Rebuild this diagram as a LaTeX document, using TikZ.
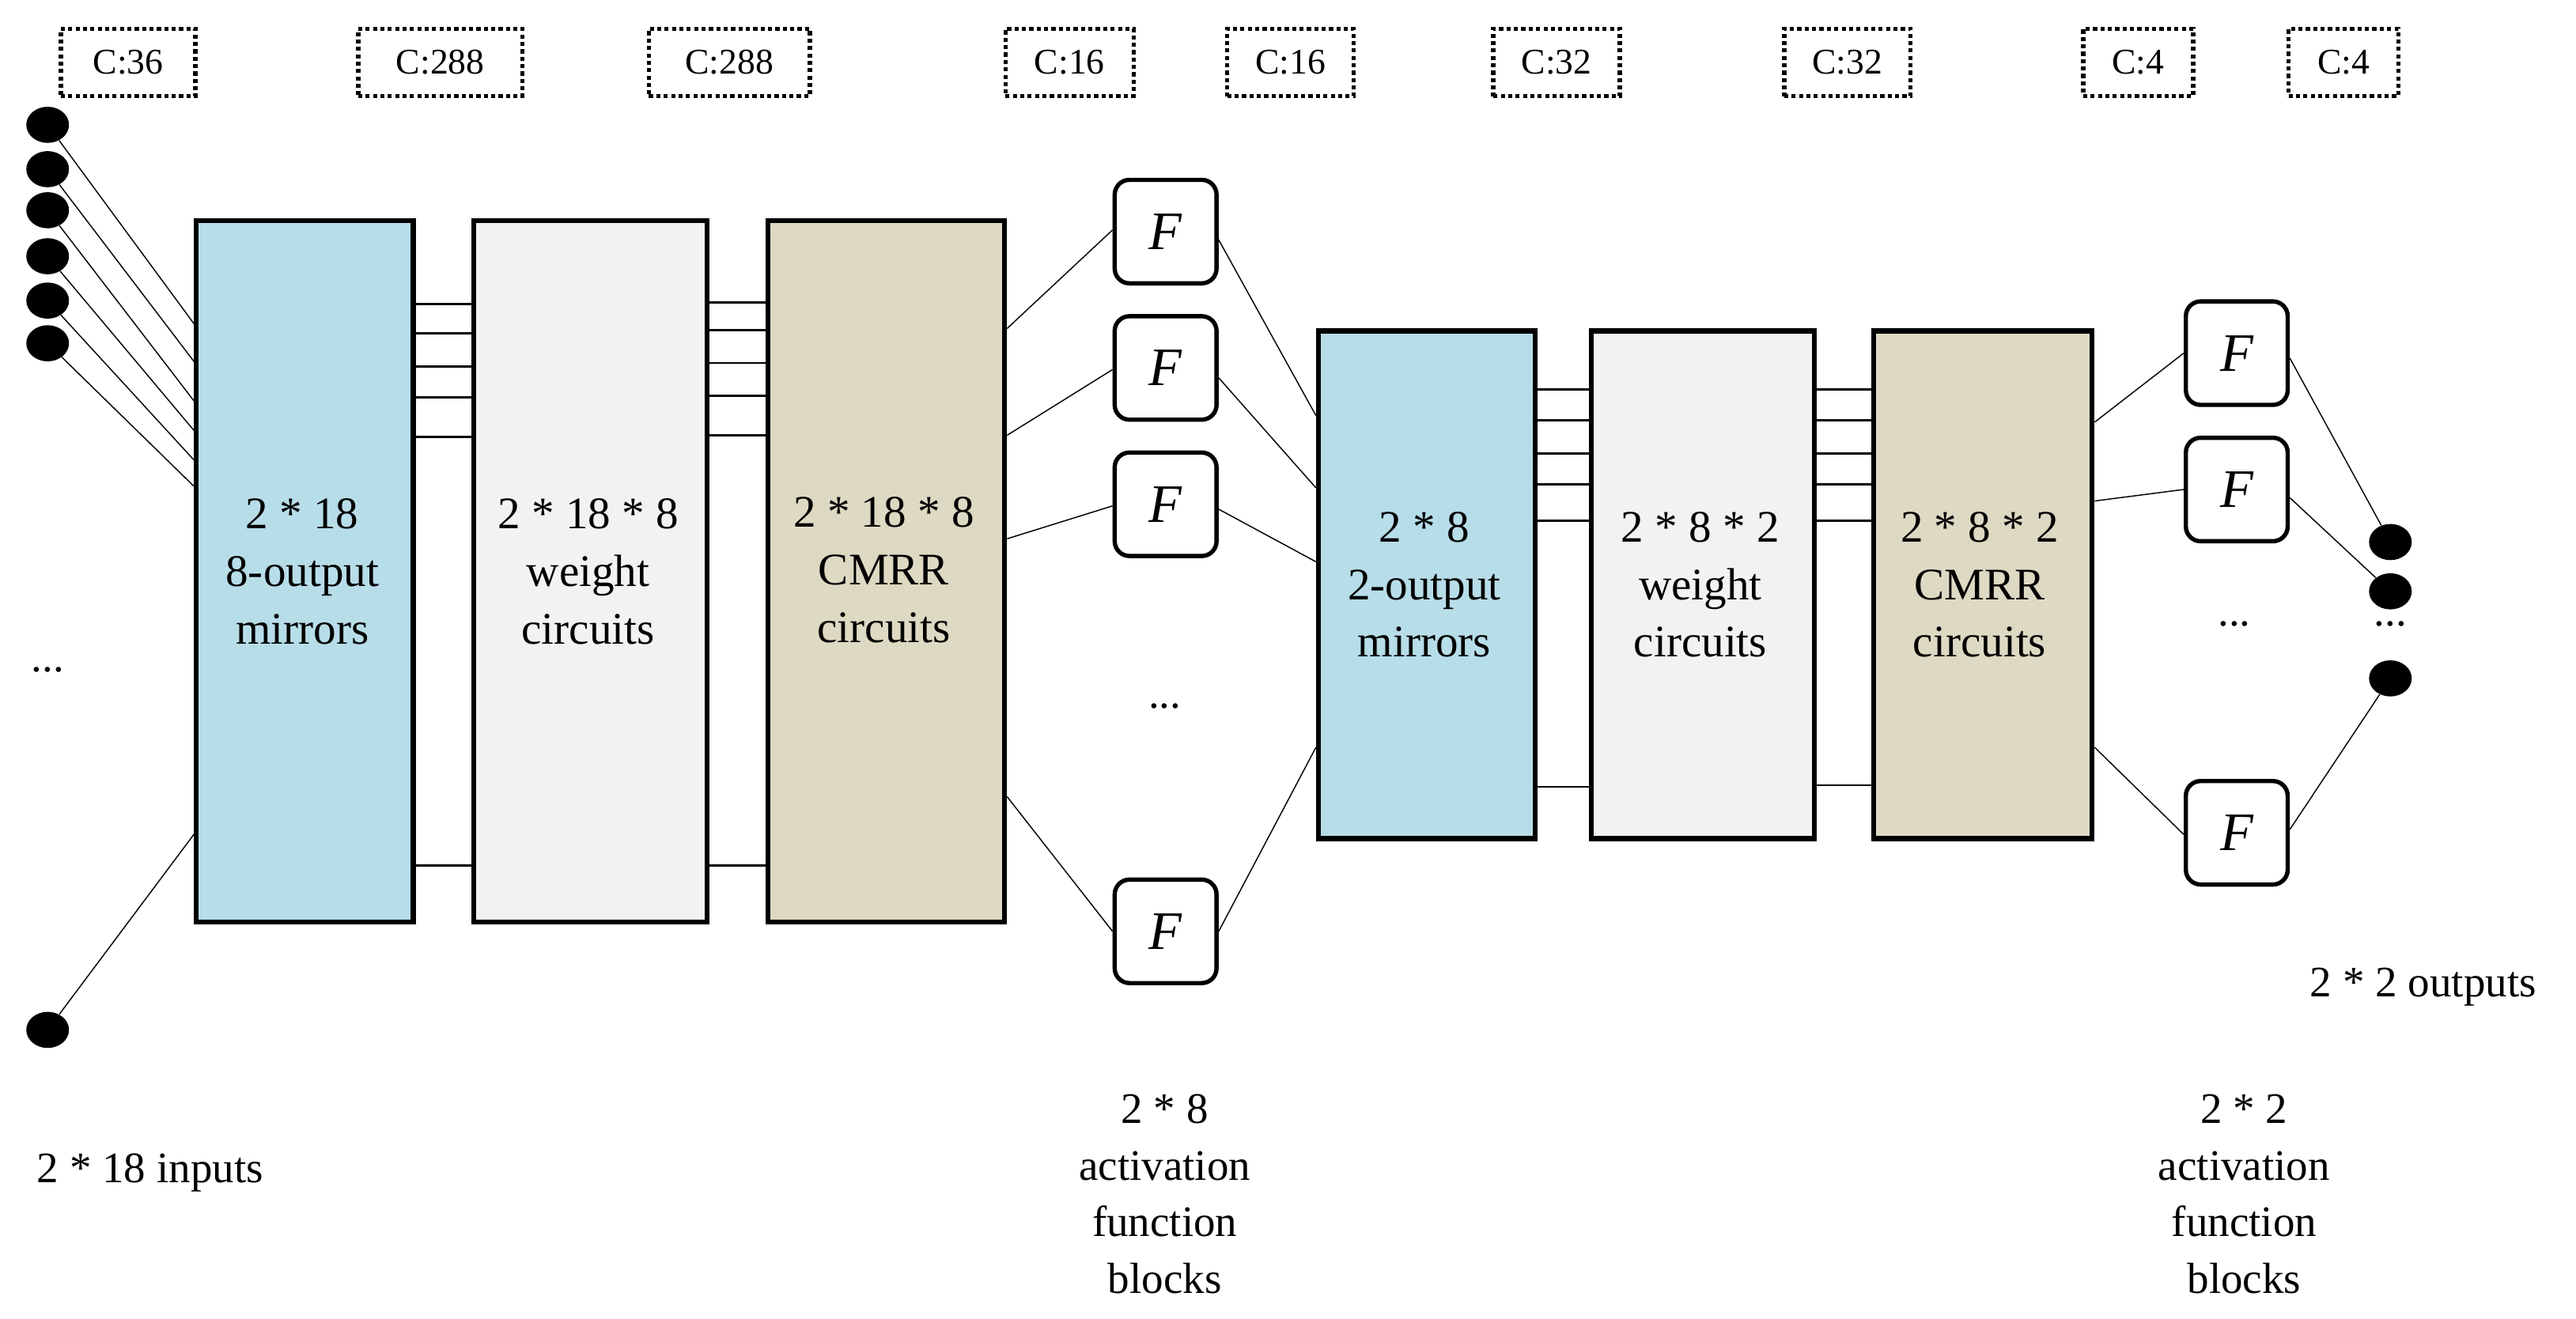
\documentclass[tikz,border=0pt]{standalone}
\usepackage{fontspec}
\setmainfont{Liberation Serif}
\usetikzlibrary{shapes.geometric}
\definecolor{cblue}{HTML}{B7DDE8}
\definecolor{cgray}{HTML}{F2F2F2}
\definecolor{ctan}{HTML}{DDD9C3}
\begin{document}
\begin{tikzpicture}[x=1pt,y=-1pt,
  blk/.style={draw,line width=3pt,anchor=north west,inner sep=0pt},
  btxt/.style={font=\fontsize{27.5}{35}\selectfont,align=center},
  cbox/.style={draw,line width=2.6pt,dash pattern=on 2.5pt off 2pt,font=\fontsize{22}{24}\selectfont,minimum height=41pt,inner sep=0pt},
  fbox/.style={draw,line width=2.6pt,rounded corners=9pt,minimum width=62pt,minimum height=63pt,font=\fontsize{33}{33}\selectfont\itshape,inner sep=0pt},
  dot/.style={ellipse,fill=black,minimum width=26pt,minimum height=22pt,inner sep=0pt},
  ln/.style={line width=0.7pt},
  lw/.style={line width=1.3pt},
  lbl/.style={font=\fontsize{26.5}{34.5}\selectfont,align=center}]
\useasboundingbox (0,0) rectangle (1568,802.6);
% C boxes
\node[cbox,minimum width=82pt] (c1) at (78,38) {C:36};
\node[cbox,minimum width=100pt] (c2) at (268,38) {C:288};
\node[cbox,minimum width=98pt] (c3) at (444,38) {C:288};
\node[cbox,minimum width=78pt] (c4) at (651,38) {C:16};
\node[cbox,minimum width=77pt] (c5) at (785.5,38) {C:16};
\node[cbox,minimum width=77pt] (c6) at (947.5,38) {C:32};
\node[cbox,minimum width=77pt] (c7) at (1124.5,38) {C:32};
\node[cbox,minimum width=67pt] (c8) at (1301.5,38) {C:4};
\node[cbox,minimum width=67pt] (c9) at (1426.5,38) {C:4};
% blocks
\node[blk,fill=cblue,minimum width=132pt,minimum height=427pt] (b1) at (118,133) {};
\node[blk,fill=cgray,minimum width=142pt,minimum height=427pt] (b2) at (287,133) {};
\node[blk,fill=ctan,minimum width=144pt,minimum height=427pt] (b3) at (466,133) {};
\node[blk,fill=cblue,minimum width=132pt,minimum height=309pt] (b4) at (801,200) {};
\node[blk,fill=cgray,minimum width=136pt,minimum height=309pt] (b5) at (967,200) {};
\node[blk,fill=ctan,minimum width=133pt,minimum height=309pt] (b6) at (1139,200) {};
\node[btxt] (t1) at (184,348) {2 * 18\\8-output\\mirrors};
\node[btxt] (t2) at (358,348) {2 * 18 * 8\\weight\\circuits};
\node[btxt] (t3) at (538,347) {2 * 18 * 8\\CMRR\\circuits};
\node[btxt] (t4) at (867,356) {2 * 8\\2-output\\mirrors};
\node[btxt] (t5) at (1035,356) {2 * 8 * 2\\weight\\circuits};
\node[btxt] (t6) at (1205,356) {2 * 8 * 2\\CMRR\\circuits};
% input dots
\foreach \i/\y in {1/76,2/103,3/128,4/156,5/183,6/209,7/627}{\node[dot] (in\i) at (29,\y) {};}
\node[lbl] (indots) at (29,408) {...};
\foreach \i/\y in {1/197,2/220,3/244,4/262,5/280,6/296,7/508}{\draw[ln] (in\i) -- (b1.west |- 0,\y);}
% block connectors
\foreach \y in {185,203,223,242,266,527}{\draw[lw] (b1.east |- 0,\y) -- (b2.west |- 0,\y);}
\foreach \y in {184,201,221,241,265,527}{\draw[lw] (b2.east |- 0,\y) -- (b3.west |- 0,\y);}
\foreach \y in {237,256,276,295,317,479}{\draw[lw] (b4.east |- 0,\y) -- (b5.west |- 0,\y);}
\foreach \y in {237,256,276,295,317,478}{\draw[lw] (b5.east |- 0,\y) -- (b6.west |- 0,\y);}
% F column 1
\node[fbox] (f1) at (709.5,141) {F};
\node[fbox] (f2) at (709.5,224) {F};
\node[fbox] (f3) at (709.5,307) {F};
\node[fbox] (f4) at (709.5,567) {F};
\node[lbl] (fdots1) at (709,430) {...};
\draw[ln] (b3.east |- 0,200) -- (f1.west |- 0,140);
\draw[ln] (b3.east |- 0,265) -- (f2.west |- 0,225);
\draw[ln] (b3.east |- 0,328) -- (f3.west |- 0,308);
\draw[ln] (b3.east |- 0,485) -- (f4.west |- 0,567);
\draw[ln] (f1.east |- 0,146) -- (b4.west |- 0,253);
\draw[ln] (f2.east |- 0,230) -- (b4.west |- 0,297);
\draw[ln] (f3.east |- 0,310) -- (b4.west |- 0,342);
\draw[ln] (f4.east |- 0,567) -- (b4.west |- 0,455);
% F column 2
\node[fbox] (g1) at (1361.5,215) {F};
\node[fbox] (g2) at (1361.5,298) {F};
\node[fbox] (g3) at (1361.5,507) {F};
\node[lbl] (fdots2) at (1360,380) {...};
\draw[ln] (b6.east |- 0,257) -- (g1.west |- 0,215);
\draw[ln] (b6.east |- 0,305) -- (g2.west |- 0,298);
\draw[ln] (b6.east |- 0,455) -- (g3.west |- 0,508);
% outputs
\node[dot] (o1) at (1455,330) {};
\node[dot] (o2) at (1455,360) {};
\node[dot] (o3) at (1455,413) {};
\node[lbl] (odots) at (1455,380) {...};
\draw[ln] (g1.east |- 0,218) -- (o1);
\draw[ln] (g2.east |- 0,303) -- (o2);
\draw[ln] (g3.east |- 0,505) -- (o3);
% labels
\node[lbl,anchor=west] (inl) at (19,714) {2 * 18 inputs};
\node[lbl] (al1) at (709,727) {2 * 8\\activation\\function\\blocks};
\node[lbl] (al2) at (1366,727) {2 * 2\\activation\\function\\blocks};
\node[lbl] (outl) at (1475,601) {2 * 2 outputs};
\end{tikzpicture}
\end{document}
